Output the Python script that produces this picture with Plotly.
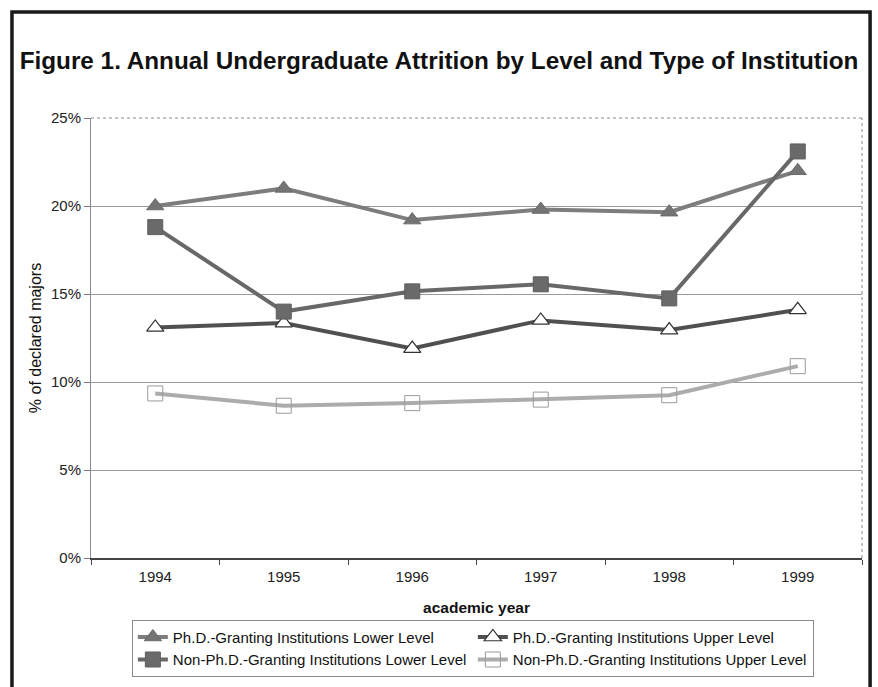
import plotly.graph_objects as go

years = ["1994", "1995", "1996", "1997", "1998", "1999"]

phd_lower = [20.0, 21.0, 19.2, 19.8, 19.65, 22.0]
phd_upper = [13.1, 13.35, 11.9, 13.5, 12.95, 14.1]
nonphd_lower = [18.8, 14.0, 15.15, 15.55, 14.75, 23.1]
nonphd_upper = [9.35, 8.65, 8.8, 9.0, 9.25, 10.9]

series_names = [
    "Ph.D.-Granting Institutions Lower Level",
    "Ph.D.-Granting Institutions Upper Level",
    "Non-Ph.D.-Granting Institutions Lower Level",
    "Non-Ph.D.-Granting Institutions Upper Level",
]

y_ticks = [0, 5, 10, 15, 20, 25]
y_tick_text = ["0%", "5%", "10%", "15%", "20%", "25%"]

FONT = "Liberation Sans, Arial, sans-serif"

fig = go.Figure()

fig.add_trace(go.Scatter(
    x=years, y=phd_lower, name=series_names[0], mode="lines+markers",
    line=dict(color="#7d7d7d", width=4),
    marker=dict(symbol="triangle-up", size=15, color="#747474",
                line=dict(color="#6a6a6a", width=1)),
))
fig.add_trace(go.Scatter(
    x=years, y=phd_upper, name=series_names[1], mode="lines+markers",
    line=dict(color="#505050", width=4),
    marker=dict(symbol="triangle-up", size=15, color="white",
                line=dict(color="#333333", width=1.2)),
))
fig.add_trace(go.Scatter(
    x=years, y=nonphd_lower, name=series_names[2], mode="lines+markers",
    line=dict(color="#686868", width=4),
    marker=dict(symbol="square", size=15, color="#6a6a6a",
                line=dict(color="#5e5e5e", width=1)),
))
fig.add_trace(go.Scatter(
    x=years, y=nonphd_upper, name=series_names[3], mode="lines+markers",
    line=dict(color="#acacac", width=4),
    marker=dict(symbol="square", size=15, color="rgba(255,255,255,0)",
                line=dict(color="#9a9a9a", width=1)),
))

# Outer frame around the whole figure
fig.add_shape(type="rect", xref="paper", yref="paper",
              x0=-0.1025, x1=1.0105, y0=-0.40, y1=1.241,
              line=dict(color="#1a1a1a", width=3.5), layer="below")
# Dotted top and right edges of the plot area
fig.add_shape(type="line", xref="paper", yref="paper", x0=0, x1=1, y0=1, y1=1,
              line=dict(color="#8a8a8a", width=1, dash="dot"))
fig.add_shape(type="line", xref="paper", yref="paper", x0=1, x1=1, y0=0, y1=1,
              line=dict(color="#8a8a8a", width=1, dash="dot"))

fig.update_layout(
    width=878, height=687,
    margin=dict(l=91, r=16, t=118, b=128),
    paper_bgcolor="white", plot_bgcolor="white",
    font=dict(family=FONT, color="#222222", size=15),
    title=dict(
        text="<b>Figure 1. Annual Undergraduate Attrition by Level and Type of Institution</b>",
        x=0.5, xanchor="center", y=0.912, yanchor="middle", yref="container",
        font=dict(family=FONT, size=24.3, color="#111111"),
    ),
    xaxis=dict(
        type="category", range=[-0.5, 5.5], tickson="boundaries",
        ticks="outside", ticklen=5, tickcolor="#444", showgrid=False,
        showline=True, linecolor="#444", linewidth=1.5,
        tickfont=dict(size=15, color="#222"), ticklabelstandoff=4,
        title=dict(text="<b>academic year</b>", font=dict(size=15.5, color="#111"), standoff=18),
        fixedrange=True,
    ),
    yaxis=dict(
        range=[0, 25], tickvals=y_ticks, ticktext=y_tick_text,
        ticks="outside", ticklen=6, tickcolor="#777",
        showgrid=True, gridcolor="#9a9a9a", gridwidth=1,
        showline=True, linecolor="#8a8a8a", linewidth=1,
        zeroline=False,
        tickfont=dict(size=15, color="#222"),
        title=dict(text="% of declared majors", font=dict(size=16, color="#111"), standoff=5),
        fixedrange=True,
    ),
    legend=dict(
        orientation="h", x=0.053, y=-0.267, xanchor="left", yanchor="bottom",
        bordercolor="#8a8a8a", borderwidth=1, bgcolor="white",
        font=dict(size=15, color="#111"),
        entrywidth=295, entrywidthmode="pixels",
        itemwidth=30, tracegroupgap=0,
    ),
    showlegend=True,
)

fig.write_html("out.html")
